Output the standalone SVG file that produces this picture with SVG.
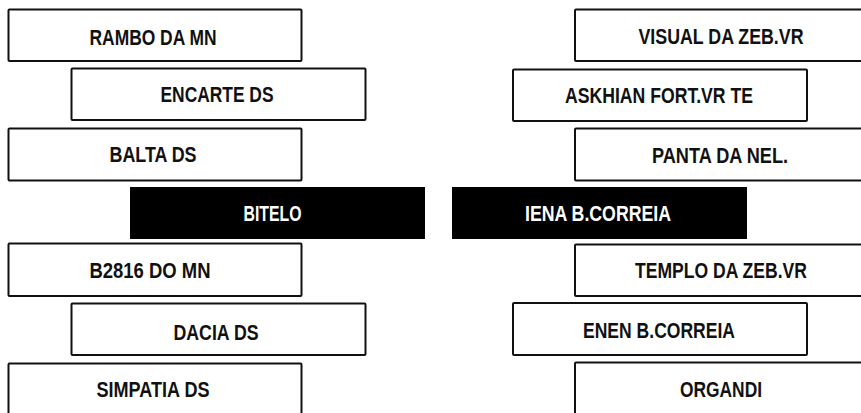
<svg xmlns="http://www.w3.org/2000/svg" width="861" height="413" viewBox="0 0 861 413">
  <style>
    .box { fill: #ffffff; stroke: #111111; stroke-width: 2; }
    .dark { fill: #000000; stroke: none; }
    .lbl { font-family: "Liberation Sans Narrow", "Liberation Sans", Arial, sans-serif; font-weight: bold; font-size: 22px; fill: #111111; text-anchor: middle; }
    .lblw { fill: #ffffff; }
  </style>
  <rect x="0" y="0" width="861" height="413" fill="#ffffff"/>
  <g id="connectors"></g>
  <g id="rambo">
    <rect class="box" x="8.5" y="9.5" width="293" height="51.5" rx="1"/>
    <text class="lbl" x="153" y="45" textLength="127" lengthAdjust="spacingAndGlyphs">RAMBO DA MN</text>
  </g>
  <g id="encarte">
    <rect class="box" x="71.5" y="68.5" width="294" height="51.5" rx="1"/>
    <text class="lbl" x="217" y="102" textLength="113" lengthAdjust="spacingAndGlyphs">ENCARTE DS</text>
  </g>
  <g id="balta">
    <rect class="box" x="8.5" y="128.5" width="293" height="52" rx="1"/>
    <text class="lbl" x="153" y="162" textLength="87" lengthAdjust="spacingAndGlyphs">BALTA DS</text>
  </g>
  <g id="bitelo">
    <rect class="dark" x="130" y="187" width="295" height="52"/>
    <text class="lbl lblw" x="272.5" y="221" textLength="58" lengthAdjust="spacingAndGlyphs">BITELO</text>
  </g>
  <g id="b2816">
    <rect class="box" x="8.5" y="243.5" width="293" height="52.5" rx="1"/>
    <text class="lbl" x="150" y="278" textLength="121" lengthAdjust="spacingAndGlyphs">B2816 DO MN</text>
  </g>
  <g id="dacia">
    <rect class="box" x="71.5" y="303.5" width="294" height="51.5" rx="1"/>
    <text class="lbl" x="216" y="340" textLength="85" lengthAdjust="spacingAndGlyphs">DACIA DS</text>
  </g>
  <g id="simpatia">
    <rect class="box" x="8.5" y="363.5" width="293" height="70" rx="1"/>
    <text class="lbl" x="153" y="397" textLength="113" lengthAdjust="spacingAndGlyphs">SIMPATIA DS</text>
  </g>
  <g id="visual">
    <rect class="box" x="575" y="9.5" width="300" height="51.5" rx="1"/>
    <text class="lbl" x="721" y="44" textLength="165" lengthAdjust="spacingAndGlyphs">VISUAL DA ZEB.VR</text>
  </g>
  <g id="askhian">
    <rect class="box" x="513" y="69.5" width="294" height="51.5" rx="1"/>
    <text class="lbl" x="659" y="103" textLength="188" lengthAdjust="spacingAndGlyphs">ASKHIAN FORT.VR TE</text>
  </g>
  <g id="panta">
    <rect class="box" x="575" y="128.5" width="300" height="52" rx="1"/>
    <text class="lbl" x="720" y="163" textLength="136" lengthAdjust="spacingAndGlyphs">PANTA DA NEL.</text>
  </g>
  <g id="iena">
    <rect class="dark" x="452" y="187" width="295" height="52"/>
    <text class="lbl lblw" x="598" y="221" textLength="146" lengthAdjust="spacingAndGlyphs">IENA B.CORREIA</text>
  </g>
  <g id="templo">
    <rect class="box" x="575" y="244.5" width="300" height="51.5" rx="1"/>
    <text class="lbl" x="721" y="278" textLength="172" lengthAdjust="spacingAndGlyphs">TEMPLO DA ZEB.VR</text>
  </g>
  <g id="enen">
    <rect class="box" x="513" y="303" width="294" height="52" rx="1"/>
    <text class="lbl" x="659" y="338" textLength="152" lengthAdjust="spacingAndGlyphs">ENEN B.CORREIA</text>
  </g>
  <g id="organdi">
    <rect class="box" x="575" y="362.5" width="300" height="70" rx="1"/>
    <text class="lbl" x="721" y="397" textLength="82" lengthAdjust="spacingAndGlyphs">ORGANDI</text>
  </g>
</svg>
